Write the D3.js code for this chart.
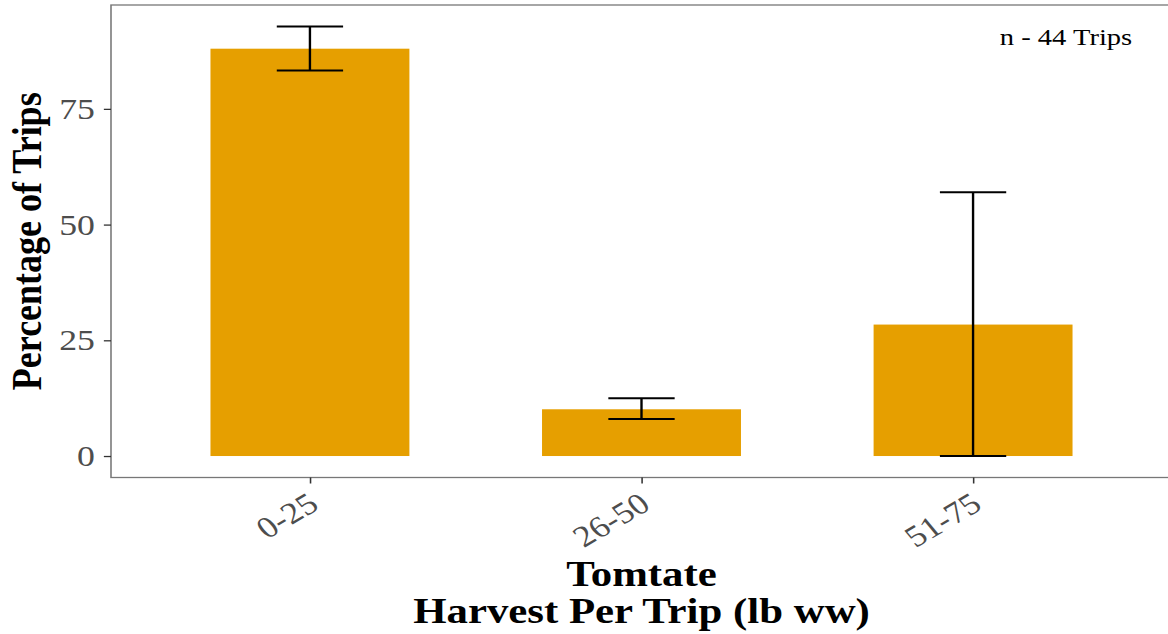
<!DOCTYPE html>
<html>
<head>
<meta charset="utf-8">
<script src="https://cdn.jsdelivr.net/npm/d3@7"></script>
<style>
  html, body { margin: 0; padding: 0; background: #fff; }
  svg { display: block; }
</style>
</head>
<body>
<svg id="chart"></svg>
<script>
// ---- data ----
const categories = ["0-25", "26-50", "51-75"];
const values = [88.0, 10.1, 28.4];
const errLow = [83.3, 8.0, 0.0];
const errHigh = [92.8, 12.5, 57.0];
const yTicks = [0, 25, 50, 75];
const xTitleLines = ["Tomtate", "Harvest Per Trip (lb ww)"];
const yTitle = "Percentage of Trips";
const annotation = "n - 44 Trips";

// ---- layout (the original is stretched horizontally) ----
const W = 1168, H = 634, SX = 1.19;
const VW = W / SX;
const svg = d3.select("#chart")
  .attr("width", W).attr("height", H)
  .attr("viewBox", `0 0 ${VW} ${H}`)
  .attr("preserveAspectRatio", "none");

const panel = { left: 111 / SX, right: 1172 / SX, top: 5, bottom: 477.5 };

const x = d3.scalePoint().domain(categories)
  .range([panel.left, panel.right]).padding(0.6);
const step = x.step();

const yMax = d3.max(errHigh), yMin = 0;
const ex = (yMax - yMin) * 0.05;
const y = d3.scaleLinear().domain([yMin - ex, yMax + ex])
  .range([panel.bottom, panel.top]);

const serif = "'Liberation Serif', 'Times New Roman', serif";

// bars
svg.append("g").selectAll("rect").data(categories).join("rect")
  .attr("x", d => x(d) - step * 0.3)
  .attr("width", step * 0.6)
  .attr("y", (d, i) => y(values[i]))
  .attr("height", (d, i) => y(0) - y(values[i]))
  .attr("fill", "#E69F00");

// error bars
const eg = svg.append("g").attr("stroke", "#000").attr("stroke-width", 2).attr("fill", "none");
categories.forEach((c, i) => {
  const cx = x(c), hw = step * 0.1;
  eg.append("line").attr("x1", cx).attr("x2", cx).attr("y1", y(errLow[i])).attr("y2", y(errHigh[i]));
  eg.append("line").attr("x1", cx - hw).attr("x2", cx + hw).attr("y1", y(errLow[i])).attr("y2", y(errLow[i]));
  eg.append("line").attr("x1", cx - hw).attr("x2", cx + hw).attr("y1", y(errHigh[i])).attr("y2", y(errHigh[i]));
});

// panel border
svg.append("rect")
  .attr("x", panel.left).attr("y", panel.top)
  .attr("width", panel.right - panel.left).attr("height", panel.bottom - panel.top)
  .attr("fill", "none").attr("stroke", "#777").attr("stroke-width", 1.3);

// y axis
const yAxis = d3.axisLeft(y).tickValues(yTicks).tickSize(6).tickPadding(7.5);
const gy = svg.append("g").attr("transform", `translate(${panel.left},0)`).call(yAxis);
gy.select(".domain").remove();
gy.selectAll(".tick line").attr("stroke", "#333").attr("stroke-width", 1.3);
gy.selectAll(".tick text")
  .attr("fill", "#4d4d4d").attr("font-family", serif).attr("font-size", 30);

// x axis
const xAxis = d3.axisBottom(x).tickSize(6).tickPadding(6);
const gx = svg.append("g").attr("transform", `translate(0,${panel.bottom})`).call(xAxis);
gx.select(".domain").remove();
gx.selectAll(".tick line").attr("stroke", "#333").attr("stroke-width", 1.3);
gx.selectAll(".tick text")
  .attr("fill", "#4d4d4d").attr("font-family", serif).attr("font-size", 30)
  .attr("text-anchor", "end")
  .attr("x", -10.7).attr("y", 8.6).attr("dy", "0.71em")
  .attr("transform", "rotate(-35)");

// axis titles
const xt = svg.append("text")
  .attr("x", (panel.left + panel.right) / 2).attr("y", 586)
  .attr("text-anchor", "middle")
  .attr("font-family", serif).attr("font-size", 36).attr("font-weight", "bold").attr("fill", "#000");
xTitleLines.forEach((t, i) => {
  xt.append("tspan").attr("x", (panel.left + panel.right) / 2).attr("y", 586 + i * 37).text(t);
});

svg.append("text")
  .attr("transform", `translate(${40.5 / SX},${(panel.top + panel.bottom) / 2}) rotate(-90)`)
  .attr("text-anchor", "middle")
  .attr("font-family", serif).attr("font-size", 36).attr("font-weight", "bold").attr("fill", "#000")
  .text(yTitle);

// annotation
svg.append("text")
  .attr("x", 1066 / SX).attr("y", 45)
  .attr("text-anchor", "middle")
  .attr("font-family", serif).attr("font-size", 24).attr("fill", "#000")
  .text(annotation);
</script>
</body>
</html>
